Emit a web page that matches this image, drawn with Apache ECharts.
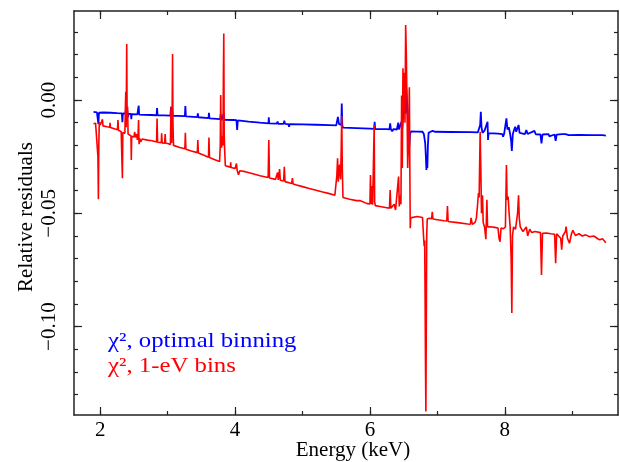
<!DOCTYPE html>
<html>
<head>
<meta charset="utf-8">
<script src="https://cdn.jsdelivr.net/npm/echarts@6/dist/echarts.min.js"></script>
<style>
html,body{margin:0;padding:0;background:#fff;}
#chart{width:620px;height:462px;}
</style>
</head>
<body>
<div id="chart"></div>
<script>
// ---- Data (Energy keV, relative residual) ----
const blueLabel = 'χ², optimal binning';
const redLabel = 'χ², 1-eV bins';
const xAxisTitle = 'Energy (keV)';
const yAxisTitle = 'Relative residuals';

const xMajorTicks = [2, 4, 6, 8];
const xMinorTicks = [2, 3, 4, 5, 6, 7, 8, 9];
const yMajorTicks = [-0.10, -0.05, 0.00];
const yMinorTicks = [-0.13, -0.12, -0.11, -0.10, -0.09, -0.08, -0.07, -0.06, -0.05, -0.04, -0.03, -0.02, -0.01, 0.00, 0.01, 0.02, 0.03];

const bluePoints = [
[1.90,-0.0052],[1.95,-0.0054],[1.965,-0.0055],[1.972,-0.0106],[1.98,-0.0056],[2.00,-0.0052],
[2.05,-0.0055],[2.15,-0.0056],[2.25,-0.0058],[2.32,-0.0059],[2.328,-0.0098],[2.335,-0.0059],
[2.37,-0.0060],[2.38,-0.0045],[2.39,-0.0080],[2.40,-0.0044],[2.41,-0.0075],[2.42,-0.0061],
[2.455,-0.0061],[2.46,-0.0084],[2.466,-0.0062],[2.55,-0.0063],[2.565,-0.0062],[2.57,-0.0025],
[2.576,-0.0064],[2.65,-0.0065],[2.75,-0.0066],[2.835,-0.0067],[2.842,-0.0035],[2.85,-0.0067],
[2.95,-0.0068],[3.04,-0.0069],[3.05,-0.0030],[3.058,-0.0085],[3.066,-0.0040],[3.074,-0.0070],
[3.15,-0.0070],[3.255,-0.0071],[3.262,-0.0026],[3.27,-0.0072],[3.44,-0.0075],[3.447,-0.0059],
[3.455,-0.0076],[3.605,-0.0080],[3.612,-0.0056],[3.62,-0.0081],[3.78,-0.0084],[3.786,-0.0062],
[3.795,-0.0090],[3.832,-0.0060],[3.84,-0.0087],[3.97,-0.0088],[4.02,-0.0089],[4.03,-0.0132],
[4.04,-0.0090],[4.20,-0.0095],[4.37,-0.0100],[4.495,-0.0103],[4.50,-0.0076],[4.505,-0.0103],
[4.62,-0.0104],[4.63,-0.0095],[4.64,-0.0105],[4.72,-0.0105],[4.73,-0.0091],[4.74,-0.0105],
[4.79,-0.0106],[4.80,-0.0118],[4.81,-0.0106],[5.00,-0.0107],[5.20,-0.0109],[5.40,-0.0111],
[5.50,-0.0112],[5.525,-0.0074],[5.54,-0.0105],[5.575,-0.0110],[5.582,-0.0015],[5.59,-0.0110],
[5.60,-0.0122],[5.80,-0.0124],[6.00,-0.0126],[6.01,-0.0132],[6.02,-0.0126],[6.063,-0.0127],
[6.07,-0.0096],[6.077,-0.0128],[6.25,-0.0128],[6.29,-0.0129],[6.30,-0.0103],[6.31,-0.0128],
[6.33,-0.0138],[6.35,-0.0128],[6.40,-0.0130],[6.42,-0.0100],[6.43,-0.0130],[6.45,-0.0131],
[6.47,-0.0095],[6.48,-0.0125],[6.50,-0.0040],[6.52,0.0020],[6.53,-0.0060],[6.54,0.0050],
[6.555,-0.0030],[6.565,-0.0090],[6.575,-0.0160],[6.585,-0.0206],[6.595,-0.0150],[6.61,-0.0138],
[6.70,-0.0139],[6.78,-0.0140],[6.80,-0.0150],[6.82,-0.0190],[6.83,-0.0250],[6.838,-0.0309],
[6.845,-0.0260],[6.852,-0.0300],[6.86,-0.0200],[6.87,-0.0145],[6.90,-0.0140],[6.93,-0.0136],
[6.96,-0.0140],[7.20,-0.0141],[7.50,-0.0142],[7.60,-0.0143],[7.62,-0.0145],[7.635,-0.0110],
[7.645,-0.0052],[7.655,-0.0120],[7.67,-0.0145],[7.70,-0.0135],[7.72,-0.0142],[7.745,-0.0096],
[7.752,-0.0176],[7.76,-0.0146],[7.90,-0.0148],[7.965,-0.0150],[7.975,-0.0162],[7.99,-0.0150],
[8.025,-0.0081],[8.04,-0.0130],[8.06,-0.0120],[8.08,-0.0150],[8.095,-0.0180],[8.105,-0.0225],
[8.12,-0.0150],[8.14,-0.0130],[8.155,-0.0118],[8.17,-0.0140],[8.205,-0.0110],[8.22,-0.0145],
[8.30,-0.0150],[8.32,-0.0132],[8.34,-0.0150],[8.44,-0.0136],[8.46,-0.0151],[8.53,-0.0152],
[8.545,-0.0191],[8.56,-0.0152],[8.65,-0.0150],[8.66,-0.0160],[8.74,-0.0152],[8.755,-0.0180],
[8.77,-0.0153],[8.85,-0.0150],[8.87,-0.0158],[8.90,-0.0150],[8.95,-0.0155],[9.10,-0.0154],
[9.30,-0.0155],[9.45,-0.0155],[9.50,-0.0157]
];

const redPoints = [
[1.90,-0.0105],[1.93,-0.0102],[1.955,-0.0106],[1.965,-0.0250],[1.972,-0.0438],[1.978,-0.0200],
[1.985,-0.0098],[2.00,-0.0110],[2.025,-0.0112],[2.032,-0.0085],[2.04,-0.0114],[2.10,-0.0118],
[2.14,-0.0120],[2.145,-0.0100],[2.15,-0.0121],[2.22,-0.0128],[2.255,-0.0131],[2.262,-0.0088],
[2.27,-0.0133],[2.31,-0.0140],[2.322,-0.0141],[2.328,-0.0345],[2.334,-0.0143],[2.35,-0.0146],
[2.365,-0.0147],[2.372,-0.0040],[2.378,0.0037],[2.384,-0.0120],[2.392,0.0247],[2.398,-0.0080],
[2.405,-0.0030],[2.412,-0.0150],[2.43,-0.0155],[2.455,-0.0158],[2.46,-0.0265],[2.466,-0.0160],
[2.50,-0.0163],[2.51,-0.0140],[2.52,-0.0165],[2.54,-0.0150],[2.55,-0.0176],[2.56,-0.0160],
[2.568,-0.0088],[2.575,-0.0195],[2.585,-0.0170],[2.60,-0.0185],[2.62,-0.0172],[2.70,-0.0177],
[2.77,-0.0180],[2.835,-0.0185],[2.842,-0.0081],[2.85,-0.0186],[2.905,-0.0188],[2.91,-0.0147],
[2.918,-0.0189],[2.955,-0.0190],[2.962,-0.0150],[2.97,-0.0191],[3.00,-0.0192],[3.04,-0.0196],
[3.05,-0.0030],[3.058,-0.0190],[3.066,-0.0060],[3.072,0.0203],[3.078,-0.0100],[3.086,-0.0200],
[3.10,-0.0202],[3.18,-0.0209],[3.255,-0.0215],[3.262,-0.0144],[3.27,-0.0217],[3.35,-0.0225],
[3.44,-0.0232],[3.447,-0.0176],[3.455,-0.0234],[3.53,-0.0243],[3.605,-0.0252],[3.612,-0.0165],
[3.62,-0.0254],[3.70,-0.0263],[3.77,-0.0271],[3.78,-0.0200],[3.786,0.0022],[3.792,-0.0170],
[3.80,-0.0210],[3.81,-0.0160],[3.82,-0.0200],[3.826,0.0100],[3.832,0.0294],[3.838,-0.0150],
[3.845,-0.0220],[3.855,-0.0290],[3.88,-0.0292],[3.93,-0.0296],[3.935,-0.0275],[3.94,-0.0298],
[4.00,-0.0302],[4.02,-0.0280],[4.03,-0.0310],[4.05,-0.0330],[4.07,-0.0312],[4.15,-0.0316],
[4.25,-0.0324],[4.37,-0.0334],[4.49,-0.0342],[4.50,-0.0176],[4.51,-0.0344],[4.60,-0.0350],
[4.63,-0.0320],[4.64,-0.0352],[4.66,-0.0305],[4.67,-0.0354],[4.72,-0.0357],[4.73,-0.0294],
[4.74,-0.0360],[4.84,-0.0368],[4.85,-0.0345],[4.86,-0.0370],[4.90,-0.0374],[5.00,-0.0382],
[5.10,-0.0390],[5.20,-0.0398],[5.30,-0.0406],[5.40,-0.0413],[5.48,-0.0420],[5.51,-0.0330],
[5.52,-0.0257],[5.53,-0.0360],[5.55,-0.0285],[5.565,-0.0350],[5.575,-0.0200],[5.582,-0.0071],
[5.59,-0.0300],[5.60,-0.0430],[5.62,-0.0434],[5.70,-0.0438],[5.80,-0.0444],[5.85,-0.0443],
[5.95,-0.0456],[6.00,-0.0459],[6.008,-0.0331],[6.016,-0.0460],[6.03,-0.0380],[6.04,-0.0462],
[6.055,-0.0463],[6.063,-0.0110],[6.07,-0.0450],[6.08,-0.0466],[6.15,-0.0470],[6.25,-0.0475],
[6.29,-0.0477],[6.30,-0.0397],[6.31,-0.0478],[6.36,-0.0460],[6.38,-0.0485],[6.40,-0.0482],
[6.425,-0.0338],[6.435,-0.0470],[6.45,-0.0420],[6.46,-0.0460],[6.47,0.0020],[6.48,-0.0300],
[6.49,0.0140],[6.50,-0.0050],[6.51,0.0120],[6.52,-0.0100],[6.53,0.0331],[6.54,0.0200],
[6.55,-0.0020],[6.56,-0.0300],[6.57,-0.0200],[6.585,0.0056],[6.592,-0.0300],[6.598,-0.0566],
[6.605,-0.0520],[6.62,-0.0512],[6.70,-0.0514],[6.78,-0.0518],[6.795,-0.0600],[6.805,-0.0645],
[6.812,-0.0620],[6.818,-0.0850],[6.824,-0.1160],[6.830,-0.1375],[6.836,-0.1000],[6.842,-0.0600],
[6.85,-0.0525],[6.88,-0.0522],[6.915,-0.0524],[6.925,-0.0493],[6.935,-0.0525],[7.00,-0.0528],
[7.10,-0.0533],[7.14,-0.0534],[7.15,-0.0468],[7.16,-0.0536],[7.30,-0.0541],[7.45,-0.0547],
[7.49,-0.0548],[7.50,-0.0520],[7.52,-0.0549],[7.56,-0.0540],[7.58,-0.0520],[7.60,-0.0450],
[7.61,-0.0410],[7.62,-0.0430],[7.635,-0.0140],[7.645,-0.0300],[7.655,-0.0500],[7.67,-0.0420],
[7.68,-0.0540],[7.70,-0.0560],[7.72,-0.0614],[7.735,-0.0440],[7.745,-0.0560],[7.78,-0.0559],
[7.85,-0.0562],[7.90,-0.0565],[7.915,-0.0610],[7.93,-0.0625],[7.945,-0.0565],[7.98,-0.0568],
[8.01,-0.0560],[8.025,-0.0287],[8.035,-0.0440],[8.05,-0.0426],[8.065,-0.0500],[8.08,-0.0560],
[8.095,-0.0700],[8.105,-0.0940],[8.115,-0.0600],[8.13,-0.0560],[8.16,-0.0570],[8.19,-0.0500],
[8.205,-0.0420],[8.215,-0.0520],[8.23,-0.0560],[8.27,-0.0580],[8.32,-0.0560],[8.34,-0.0600],
[8.37,-0.0570],[8.40,-0.0585],[8.45,-0.0580],[8.53,-0.0585],[8.545,-0.0772],[8.56,-0.0588],
[8.62,-0.0587],[8.68,-0.0590],[8.74,-0.0592],[8.755,-0.0720],[8.77,-0.0590],[8.83,-0.0610],
[8.845,-0.0660],[8.86,-0.0600],[8.90,-0.0580],[8.91,-0.0559],[8.93,-0.0610],[8.96,-0.0632],
[8.99,-0.0590],[9.01,-0.0575],[9.05,-0.0598],[9.10,-0.0590],[9.15,-0.0600],[9.20,-0.0595],
[9.26,-0.0603],[9.32,-0.0600],[9.38,-0.0612],[9.41,-0.0617],[9.45,-0.0612],[9.50,-0.0630]
];

// ---- Chart ----
const FONT = '"Liberation Serif", "Times New Roman", serif';
const AXIS_COLOR = '#222';
const X_MIN = 1.61, X_MAX = 9.68;
const Y_MIN = -0.139, Y_MAX = 0.0393;

function fmtY(v) {
  const s = Math.abs(v).toFixed(2);
  return v < -1e-9 ? '\u2212' + s : s;
}

function xAx(position, ticks, len, withLabel, withLine) {
  return {
    type: 'value', position: position, min: X_MIN, max: X_MAX, gridIndex: 0,
    axisLine: { show: withLine, onZero: false, lineStyle: { color: AXIS_COLOR, width: 1.5 } },
    axisTick: { show: true, inside: true, length: len, customValues: ticks, lineStyle: { color: AXIS_COLOR, width: 1.2 } },
    axisLabel: withLabel ? { show: true, customValues: xMajorTicks, margin: 5, color: '#000', fontFamily: FONT, fontSize: 21 } : { show: false },
    splitLine: { show: false }
  };
}
function yAx(position, ticks, len, withLabel, withLine) {
  return {
    type: 'value', position: position, min: Y_MIN, max: Y_MAX, gridIndex: 0,
    axisLine: { show: withLine, onZero: false, lineStyle: { color: AXIS_COLOR, width: 1.5 } },
    axisTick: { show: true, inside: true, length: len, customValues: ticks, lineStyle: { color: AXIS_COLOR, width: 1.2 } },
    axisLabel: withLabel ? { show: true, customValues: yMajorTicks, rotate: 90, margin: 14, color: '#000', fontFamily: FONT, fontSize: 21, formatter: fmtY } : { show: false },
    splitLine: { show: false }
  };
}

const chart = echarts.init(document.getElementById('chart'), null, { renderer: 'canvas' });
chart.setOption({
  animation: false,
  backgroundColor: '#fff',
  grid: { left: 74, right: 2, top: 11, bottom: 47, containLabel: false, outerBoundsMode: 'none' },
  xAxis: [
    xAx('bottom', xMajorTicks, 8, true, true),
    xAx('bottom', xMinorTicks, 4, false, false),
    xAx('top', xMajorTicks, 8, false, true),
    xAx('top', xMinorTicks, 4, false, false)
  ],
  yAxis: [
    yAx('left', yMajorTicks, 8, true, true),
    yAx('left', yMinorTicks, 4, false, false),
    yAx('right', yMajorTicks, 8, false, true),
    yAx('right', yMinorTicks, 4, false, false)
  ],
  series: [
    { name: blueLabel, type: 'line', xAxisIndex: 0, yAxisIndex: 0, data: bluePoints, showSymbol: false,
      lineStyle: { color: '#0000ff', width: 1.8 }, itemStyle: { color: '#0000ff' }, z: 2 },
    { name: redLabel, type: 'line', xAxisIndex: 0, yAxisIndex: 0, data: redPoints, showSymbol: false,
      lineStyle: { color: '#ff0000', width: 1.6 }, itemStyle: { color: '#ff0000' }, z: 3 }
  ],
  graphic: [
    { type: 'text', x: 353, y: 450, style: { text: xAxisTitle, font: '21px ' + FONT, fill: '#000', align: 'center', verticalAlign: 'middle' } },
    { type: 'text', x: 26.5, y: 217, rotation: Math.PI / 2, style: { text: yAxisTitle, font: '21px ' + FONT, fill: '#000', align: 'center', verticalAlign: 'middle' } },
    { type: 'text', x: 108, y: 341, scaleX: 1.18, style: { text: blueLabel, font: '21px ' + FONT, fill: '#0000ff', align: 'left', verticalAlign: 'middle' } },
    { type: 'text', x: 108, y: 366, scaleX: 1.18, style: { text: redLabel, font: '21px ' + FONT, fill: '#ff0000', align: 'left', verticalAlign: 'middle' } }
  ]
});
</script>
</body>
</html>
